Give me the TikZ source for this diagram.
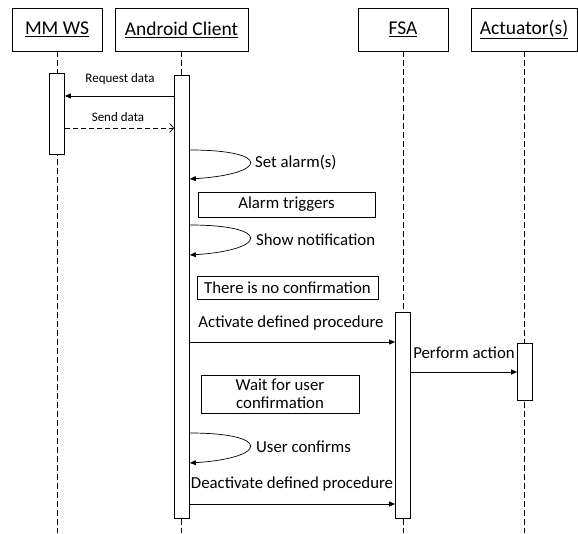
\documentclass[tikz,border=0pt]{standalone}
\usepackage{fontspec}
\setmainfont{Carlito}
\usetikzlibrary{arrows.meta,positioning}

\begin{document}
\begin{tikzpicture}[x=1pt,y=-1pt,
    lifehead/.style={draw,line width=0.8pt,minimum height=43pt,inner sep=0pt,
      font=\fontsize{19.5}{22}\selectfont},
    lifeline/.style={dashed,dash pattern=on 6pt off 3pt,line width=0.7pt},
    activation/.style={draw,fill=white,line width=0.7pt,minimum width=15pt,
      inner sep=0pt,anchor=north},
    msg/.style={line width=0.7pt,-{Triangle[length=6pt,width=5pt]}},
    reply/.style={line width=0.7pt,dashed,dash pattern=on 5pt off 3pt,
      -{Straight Barb[length=4pt,width=9pt]}},
    note/.style={draw,line width=0.7pt,inner sep=0pt,align=center,
      font=\fontsize{16.8}{18}\selectfont},
    msglabel/.style={inner sep=1pt,font=\fontsize{16.8}{19}\selectfont},
    smalllabel/.style={inner sep=1pt,font=\fontsize{13}{15}\selectfont}]
  \useasboundingbox (0,0) rectangle (578,533);

  % Lifeline heads
  \node[lifehead,minimum width=90pt] (ws) at (57,29.5) {\underline{MM WS}};
  \node[lifehead,minimum width=133pt] (ac) at (181.5,29.5) {\underline{Android Client}};
  \node[lifehead,minimum width=90pt] (fsa) at (403,29.5) {\underline{FSA}};
  \node[lifehead,minimum width=106pt] (act) at (524,29.5) {\underline{Actuator(s)}};

  % Lifelines
  \foreach \p in {ws,ac,fsa,act}
    \draw[lifeline] (\p.south) -- (\p.south |- 0,533);

  % Activation bars
  \node[activation,minimum height=81pt] (wsbar) at (57,73) {};
  \node[activation,minimum height=443pt] (acbar) at (182,75) {};
  \node[activation,minimum height=206pt] (fsabar) at (403,312) {};
  \node[activation,minimum height=57pt] (actbar) at (525,343) {};

  % Data exchange
  \draw[msg] (acbar.west |- 0,96) -- (wsbar.east |- 0,96);
  \node[smalllabel] (req) at (120,79) {Request data};
  \draw[reply] (wsbar.east |- 0,128) -- (acbar.west |- 0,128);
  \node[smalllabel] (send) at (118,117) {Send data};

  % Set alarm(s)
  \draw[msg] (acbar.east |- 0,150) .. controls (272,150) and (268,174) .. (acbar.east |- 0,179);
  \node[msglabel,anchor=west] (setal) at (254,163) {Set alarm(s)};

  \node[note,minimum width=177pt,minimum height=25pt] (alarm) at (286.5,204.5) {Alarm triggers};

  % Show notification
  \draw[msg] (acbar.east |- 0,225) .. controls (272,225) and (268,250) .. (acbar.east |- 0,255);
  \node[msglabel,anchor=west] (shownot) at (255,240) {Show notification};

  \node[note,minimum width=181pt,minimum height=23pt] (noconf) at (287.5,287.5) {There is no confirmation};

  % Activate procedure
  \draw[msg] (acbar.east |- 0,342) -- (fsabar.west |- 0,342);
  \node[msglabel] (activ) at (291,323) {Activate defined procedure};
  \draw[msg] (fsabar.east |- 0,372) -- (actbar.west |- 0,372);
  \node[msglabel] (perf) at (464,353) {Perform action};

  \node[note,minimum width=158pt,minimum height=38pt] (wait) at (280,394)
    {Wait for user\\confirmation};

  % User confirms
  \draw[msg] (acbar.east |- 0,433) .. controls (272,433) and (268,458) .. (acbar.east |- 0,463);
  \node[msglabel,anchor=west] (confirm) at (255,447) {User confirms};

  % Deactivate procedure
  \draw[msg] (acbar.east |- 0,504) -- (fsabar.west |- 0,504);
  \node[msglabel] (deact) at (292,484) {Deactivate defined procedure};
\end{tikzpicture}
\end{document}
